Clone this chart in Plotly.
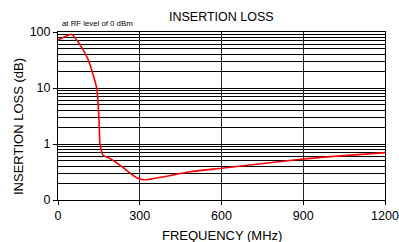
import plotly.graph_objects as go

freq_mhz = [0, 25, 50, 81, 111, 142, 150, 154, 160, 165, 191, 227, 289, 319, 484, 600, 900, 1200]
loss_db = [72, 82, 91, 59, 32, 10, 3.0, 1.0, 0.75, 0.63, 0.55, 0.42, 0.25, 0.23, 0.32, 0.37, 0.54, 0.70]

x_ticks = [0, 300, 600, 900, 1200]
y_tickvals = [0.1, 1, 10, 100]
y_ticktext = ["0", "1", "10", "100"]
y_minor = [m * d for d in (0.1, 1, 10) for m in range(2, 10)]

font = "Liberation Sans, Arial, sans-serif"
L, R, T, B, W, H = 58, 14, 32, 42, 399, 242
ph = H - T - B
pw = W - L - R

fig = go.Figure()
fig.add_trace(go.Scatter(x=freq_mhz, y=loss_db, mode="lines",
                         line=dict(color="#ff0000", width=1.6, shape="spline", smoothing=0.5),
                         showlegend=False, hoverinfo="skip"))

fig.update_layout(
    width=W, height=H,
    margin=dict(l=L, r=R, t=T, b=B, autoexpand=False),
    paper_bgcolor="white", plot_bgcolor="white",
    font=dict(family=font, size=12.5, color="black"),
    xaxis=dict(range=[0, 1200], tickvals=x_ticks, showgrid=True, gridcolor="#222", gridwidth=1,
               showline=True, linecolor="black", linewidth=1, mirror=True, automargin=False,
               ticks="outside", ticklen=4, tickcolor="black", zeroline=False),
    yaxis=dict(type="log", range=[-1, 2], tickvals=y_tickvals, ticktext=y_ticktext,
               showgrid=True, gridcolor="black", gridwidth=1, automargin=False,
               showline=True, linecolor="black", linewidth=1, mirror=True,
               ticks="outside", ticklen=4, tickcolor="black", zeroline=False,
               minor=dict(tickmode="array", tickvals=y_minor, showgrid=True,
                          gridcolor="black", gridwidth=1, ticks="")),
    annotations=[
        dict(text="INSERTION LOSS", x=(222 - L) / pw, xref="paper", y=(H - B - 17) / ph, yref="paper",
             xanchor="center", yanchor="middle", showarrow=False, font=dict(size=12.5)),
        dict(text="at RF level of 0 dBm", x=(60 - L) / pw, xref="paper", y=(H - B - 24) / ph, yref="paper",
             xanchor="left", yanchor="middle", showarrow=False, font=dict(size=7.8)),
        dict(text="INSERTION LOSS (dB)", x=(18 - L) / pw, xref="paper", y=(H - B - 127) / ph, yref="paper",
             xanchor="center", yanchor="middle", textangle=-90, showarrow=False, font=dict(size=13)),
        dict(text="FREQUENCY (MHz)", x=(221.5 - L) / pw, xref="paper", y=(H - B - 235.5) / ph, yref="paper",
             xanchor="center", yanchor="middle", showarrow=False, font=dict(size=13)),
    ],
)

fig.write_html("out.html", config={"displayModeBar": False, "staticPlot": True},
               post_script="document.body.style.margin='0';document.body.style.overflow='hidden';")
